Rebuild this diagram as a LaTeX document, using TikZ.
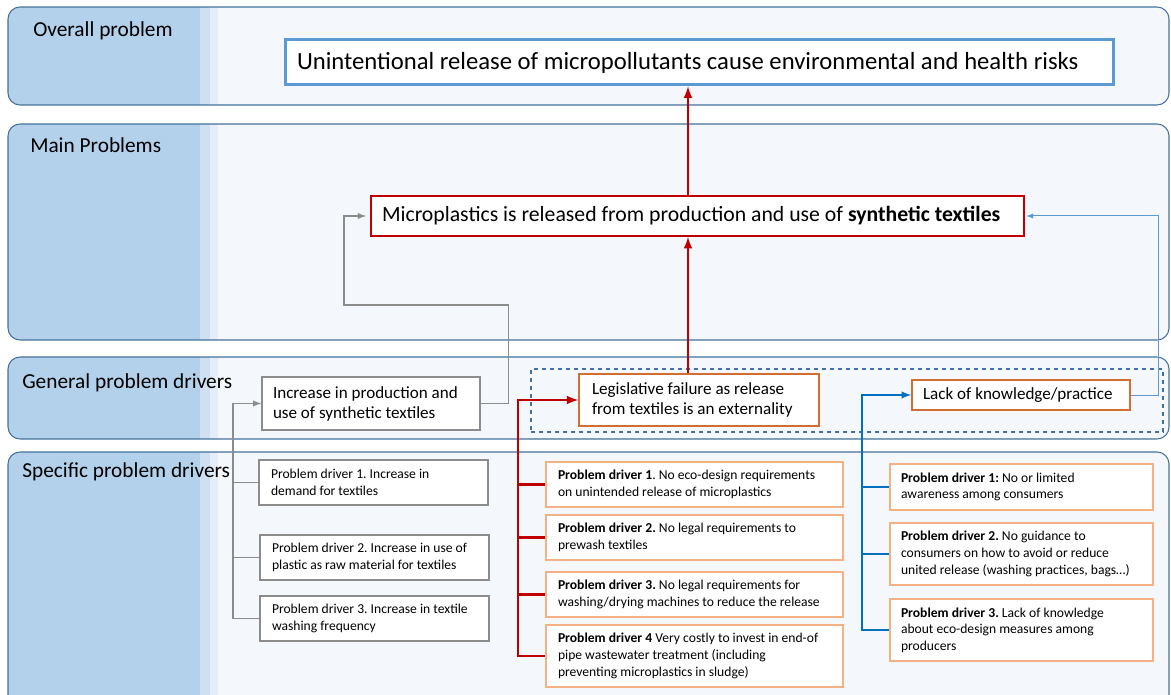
\documentclass[tikz,border=0pt]{standalone}
\usepackage{fontspec}
\setmainfont{Carlito}
\usepackage{tikz}
\usetikzlibrary{shapes.geometric, arrows, positioning, fit, backgrounds, calc}
\frenchspacing

\definecolor{bandblue}{RGB}{180,209,235}
\definecolor{bandmid}{RGB}{207,224,242}
\definecolor{bandlight}{RGB}{228,237,248}
\definecolor{bandbg}{RGB}{244,247,251}
\definecolor{bandedge}{RGB}{65,113,156}
\definecolor{titleblue}{RGB}{91,155,213}
\definecolor{darkred}{RGB}{192,0,0}
\definecolor{deeporange}{RGB}{210,110,50}
\definecolor{paleorange}{RGB}{244,177,131}
\definecolor{linkblue}{RGB}{0,112,192}
\definecolor{boxgrey}{RGB}{140,140,140}

\begin{document}
\begin{tikzpicture}[x=0.75pt, y=-0.75pt,
    bandlabel/.style={anchor=base west, inner sep=0, font=\fontsize{16}{19}\selectfont},
    smallbox/.style={rectangle, line width=1.5pt, fill=white, align=flush left, inner sep=0, text width=#1, font=\fontsize{10.2}{12.5}\selectfont},
    greybox/.style={smallbox=153.75pt, draw=boxgrey, line width=1.1pt, minimum width=171.75pt, minimum height=33.75pt},
    redbox/.style={smallbox=204.75pt, draw=paleorange, minimum width=222.75pt},
    bluebox/.style={smallbox=180.75pt, draw=paleorange, minimum width=197.25pt},
    genbox/.style={rectangle, fill=white, align=flush left, inner sep=0, font=\fontsize{12.8}{15}\selectfont},
    greylink/.style={draw=boxgrey, line width=1.1pt},
    redlink/.style={draw=darkred, line width=1.9pt},
    bluelink/.style={draw=linkblue, line width=1.5pt}]
  \useasboundingbox (0,0) rectangle (1171,695);
  \clip (0,0) rectangle (1171,695);

  % Bands
  \foreach \ya/\yb/\name/\txt/\lx/\ly in {7/105/overall/Overall problem/33/37,
      124/340/mainlbl/Main Problems/30/153,
      357/439/general/General problem drivers/22/388,
      452/720/specific/Specific problem drivers/22/477} {
    \begin{scope}
      \clip[rounded corners=9pt] (8,\ya) rectangle (1169,\yb);
      \fill[bandbg] (8,\ya) rectangle (1169,\yb);
      \fill[bandblue] (8,\ya) rectangle (200,\yb);
      \fill[bandmid] (200,\ya) rectangle (210,\yb);
      \fill[bandlight] (210,\ya) rectangle (218,\yb);
    \end{scope}
    \draw[bandedge, line width=0.8pt, rounded corners=9pt] (8,\ya) rectangle (1169,\yb);
    \node[bandlabel] (\name) at (\lx,\ly) {\txt};
  }

  % Overall problem
  \node[rectangle, draw=titleblue, line width=2.25pt, fill=white, minimum width=621pt, minimum height=33.75pt, text width=603pt, align=flush left, inner sep=0, font=\fontsize{18.5}{22}\selectfont] (title) at (699,62.5) {Unintentional release of micropollutants cause environmental and health risks};

  % Main problem
  \node[rectangle, draw=darkred, line width=1.5pt, fill=white, minimum width=489.75pt, minimum height=30pt, text width=473.25pt, align=flush left, inner sep=0, font=\fontsize{16.3}{19}\selectfont] (mainprob) at (697.5,216) {Microplastics is released from production and use of \textbf{synthetic textiles}};

  % General problem drivers
  \node[genbox, draw=boxgrey, line width=1.1pt, minimum width=163.5pt, minimum height=39.75pt, text width=147pt] (incr) at (371,403.5) {Increase in production and\\use of synthetic textiles};
  \node[rectangle, draw=bandedge, dashed, line width=0.8pt, minimum width=474pt, minimum height=47.25pt] (group) at (847,400.5) {};
  \node[genbox, draw=deeporange, line width=1.1pt, minimum width=180pt, minimum height=39pt, text width=160.5pt] (legis) at (699,400) {Legislative failure as release\\from textiles is an externality};
  \node[genbox, draw=deeporange, line width=1.1pt, minimum width=163.5pt, minimum height=22.5pt, text width=147pt] (lack) at (1021,395) {Lack of knowledge/practice};

  % Specific problem drivers, grey column
  \node[greybox] (gp1) at (373.5,482.5) {Problem driver 1. Increase in\\demand for textiles};
  \node[greybox] (gp2) at (374.5,557.5) {Problem driver 2. Increase in use of\\plastic as raw material for textiles};
  \node[greybox] (gp3) at (374.5,618.5) {Problem driver 3. Increase in textile\\washing frequency};

  % Specific problem drivers, red column
  \node[redbox, minimum height=33.75pt] (rp1) at (694.5,484.5) {\textbf{Problem driver 1}. No eco-design requirements\\on unintended release of microplastics};
  \node[redbox, minimum height=33.75pt] (rp2) at (694.5,537.5) {\textbf{Problem driver 2.} No legal requirements to\\prewash textiles};
  \node[redbox, minimum height=33.75pt] (rp3) at (694.5,594.5) {\textbf{Problem driver 3.} No legal requirements for\\washing/drying machines to reduce the release};
  \node[redbox, minimum height=46.5pt] (rp4) at (694.5,656) {\textbf{Problem driver 4} Very costly to invest in end-of\\pipe wastewater treatment (including\\preventing microplastics in sludge)};

  % Specific problem drivers, blue column
  \node[bluebox, minimum height=34.5pt] (bp1) at (1021.5,487) {\textbf{Problem driver 1:} No or limited\\awareness among consumers};
  \node[bluebox, minimum height=46.5pt] (bp2) at (1021.5,554) {\textbf{Problem driver 2.} No guidance to\\consumers on how to avoid or reduce\\united release (washing practices, bags…)};
  \node[bluebox, minimum height=46.5pt] (bp3) at (1021.5,630) {\textbf{Problem driver 3.} Lack of knowledge\\about eco-design measures among\\producers};

  % Spines
  \coordinate (spine) at (688,300);
  \coordinate (gspine) at (233,403.5);
  \coordinate (rspine) at (518,400);
  \coordinate (bspine) at (862,395);

  % Arrows up
  \draw[redlink, -latex] (legis.north -| spine) -- (mainprob.south -| spine);
  \draw[redlink, -latex] (mainprob.north -| spine) -- (title.south -| spine);
  \draw[greylink, -latex, shorten >=3pt] (incr.east) -- ++(28,0) |- (344,305) |- (mainprob.west);
  \draw[draw=titleblue, line width=0.75pt, -latex, shorten >=1pt] (lack.east) -- ++(28,0) |- (mainprob.east);

  % Brackets
  \draw[greylink, -latex] (gp3.west) -| (gspine) -- (incr.west);
  \foreach \n in {gp1, gp2}
    \draw[greylink] (\n.west) -- (\n.west -| gspine);
  \draw[redlink, -latex] (rp4.west) -| (rspine) -- (legis.west);
  \foreach \n in {rp1, rp2, rp3}
    \draw[redlink] (\n.west) -- (\n.west -| rspine);
  \draw[bluelink, -latex] (bp3.west) -| (bspine) -- (lack.west);
  \foreach \n in {bp1, bp2}
    \draw[bluelink] (\n.west) -- (\n.west -| bspine);
\end{tikzpicture}
\end{document}
